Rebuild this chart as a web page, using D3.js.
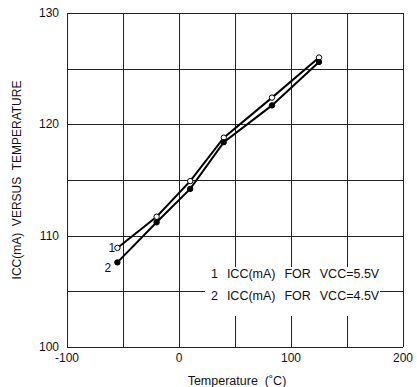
<!DOCTYPE html>
<html>
<head>
<meta charset="utf-8">
<script src="https://cdn.jsdelivr.net/npm/d3@7"></script>
<style>
  body { margin: 0; background: #fff; }
  text { font-family: "Liberation Sans", Arial, sans-serif; fill: #111; }
</style>
</head>
<body>
<script>
var temps = [-55, -20, 10, 40, 83, 125];
var icc55 = [108.9, 111.7, 114.9, 118.8, 122.4, 126.0];
var icc45 = [107.6, 111.2, 114.2, 118.4, 121.7, 125.6];
var xTicks = [-100, 0, 100, 200];
var yTicks = [100, 110, 120, 130];
var legendLines = ['1  ICC(mA)  FOR  VCC=5.5V', '2  ICC(mA)  FOR  VCC=4.5V'];

var width = 417, height = 387;
var plotLeft = 67, plotRight = 403, plotTop = 13, plotBottom = 347;

var svg = d3.select('body').append('svg')
    .attr('width', width)
    .attr('height', height);

var x = d3.scaleLinear().domain([-100, 200]).range([plotLeft, plotRight]);
var y = d3.scaleLinear().domain([100, 130]).range([plotBottom, plotTop]);

// grid
var grid = svg.append('g').attr('stroke', '#222').attr('stroke-width', 1);
grid.selectAll('.vx')
    .data(d3.range(-100, 201, 50))
    .enter().append('line')
    .attr('x1', function(d) { return Math.round(x(d)) + 0.5; })
    .attr('x2', function(d) { return Math.round(x(d)) + 0.5; })
    .attr('y1', plotTop).attr('y2', plotBottom);
grid.selectAll('.hy')
    .data(d3.range(100, 131, 5))
    .enter().append('line')
    .attr('y1', function(d) { return Math.round(y(d)) + 0.5; })
    .attr('y2', function(d) { return Math.round(y(d)) + 0.5; })
    .attr('x1', plotLeft).attr('x2', plotRight);

// legend box hides the grid under it
svg.append('rect')
    .attr('x', 205).attr('y', 267)
    .attr('width', 175).attr('height', 49)
    .attr('fill', '#fff');
svg.selectAll('.leg')
    .data(legendLines)
    .enter().append('text')
    .attr('x', 211)
    .attr('y', function(d, i) { return 278 + i * 22; })
    .attr('font-size', 12.5)
    .attr('word-spacing', 1)
    .style('white-space', 'pre')
    .text(function(d) { return d; });

// tick labels
svg.selectAll('.xt')
    .data(xTicks)
    .enter().append('text')
    .attr('x', function(d) { return x(d); })
    .attr('y', 362)
    .attr('text-anchor', 'middle')
    .attr('font-size', 12)
    .text(function(d) { return d; });
svg.selectAll('.yt')
    .data(yTicks)
    .enter().append('text')
    .attr('x', 59)
    .attr('y', function(d) { return y(d) + 4; })
    .attr('text-anchor', 'end')
    .attr('font-size', 12)
    .text(function(d) { return d; });

svg.append('text')
    .attr('x', 237).attr('y', 385)
    .attr('text-anchor', 'middle')
    .attr('font-size', 12.5)
    .style('white-space', 'pre')
    .text('Temperature  (˚C)');
svg.append('text')
    .attr('transform', 'translate(21,' + 180 + ') rotate(-90)')
    .attr('text-anchor', 'middle')
    .attr('font-size', 12)
    .style('white-space', 'pre')
    .text('ICC(mA)  VERSUS  TEMPERATURE');

// series
var line = d3.line()
    .x(function(d, i) { return x(temps[i]); })
    .y(function(d) { return y(d); });

[icc55, icc45].forEach(function(s, k) {
  svg.append('path')
      .datum(s)
      .attr('d', line)
      .attr('fill', 'none')
      .attr('stroke', '#000')
      .attr('stroke-width', 2);
  svg.selectAll('.pt' + k)
      .data(s)
      .enter().append('circle')
      .attr('cx', function(d, i) { return x(temps[i]); })
      .attr('cy', function(d) { return y(d); })
      .attr('r', 2.7)
      .attr('fill', k === 0 ? '#fff' : '#000')
      .attr('stroke', '#000')
      .attr('stroke-width', 1);
});

// curve numbers
svg.append('text').attr('x', x(temps[0]) - 9).attr('y', y(icc55[0]) + 4)
    .attr('font-size', 12).text('1');
svg.append('text').attr('x', x(temps[0]) - 13).attr('y', y(icc45[0]) + 10)
    .attr('font-size', 12).text('2');
</script>
</body>
</html>
